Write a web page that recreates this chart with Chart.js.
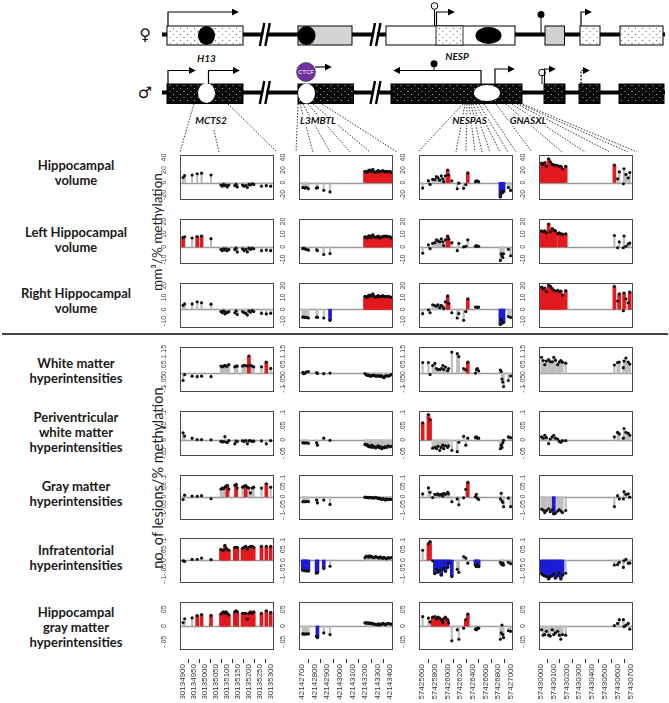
<!DOCTYPE html>
<html><head><meta charset="utf-8">
<script src="https://cdn.jsdelivr.net/npm/chart.js@4/dist/chart.umd.min.js"></script>
<style>
html,body{margin:0;padding:0;background:#fff;}
#wrap{position:relative;width:669px;height:703px;overflow:hidden;background:#fff;}
#wrap canvas{position:absolute;}
.rl{position:absolute;left:0;width:152px;text-align:center;font:bold 13px Lato, sans-serif;line-height:15px;color:#1a1a1a;}
.yt{position:absolute;font-family:Lato, sans-serif;color:#222;white-space:nowrap;transform:translate(-50%,-50%) rotate(-90deg);}
#sep{position:absolute;left:2px;top:333px;width:666px;height:2px;background:#444;}
</style></head><body><div id="wrap">
<svg width="669" height="152" style="position:absolute;left:0;top:0">
<defs>
<pattern id="dotF" width="7" height="6" patternUnits="userSpaceOnUse"><rect width="7" height="6" fill="#fff"/><circle cx="2" cy="1.5" r="0.6" fill="#555"/><circle cx="5.5" cy="4.5" r="0.6" fill="#555"/></pattern>
<pattern id="dotM" width="7" height="6" patternUnits="userSpaceOnUse"><rect width="7" height="6" fill="#0a0a0a"/><circle cx="2" cy="1.5" r="0.6" fill="#bbb"/><circle cx="5.5" cy="4.5" r="0.6" fill="#bbb"/></pattern>
<marker id="ar" viewBox="0 0 10 10" refX="6" refY="5" markerUnits="userSpaceOnUse" markerWidth="7" markerHeight="7" orient="auto"><path d="M0,0 L10,5 L0,10 z" fill="#000"/></marker>
</defs>
<g font-family="DejaVu Sans" font-size="16" text-anchor="middle" fill="#111"><text x="145" y="40">♀</text><text x="145" y="98">♂</text></g>
<!-- female strand -->
<line x1="162" y1="34.5" x2="665" y2="34.5" stroke="#000" stroke-width="4"/>
<rect x="167" y="26" width="76" height="19" fill="url(#dotF)" stroke="#000"/>
<ellipse cx="206.5" cy="35.5" rx="8.5" ry="9.5" fill="#000"/>
<rect x="298" y="26" width="54" height="19" fill="#d4d4d4" stroke="#000"/>
<ellipse cx="306.5" cy="35.5" rx="9" ry="9.5" fill="#000"/>
<rect x="386" y="26" width="129" height="19" fill="#fff" stroke="#000"/>
<rect x="436" y="26" width="27" height="19" fill="url(#dotF)" stroke="#000" stroke-width="0.8"/>
<ellipse cx="488.5" cy="35.5" rx="13" ry="8.5" fill="#000"/>
<line x1="434.5" y1="9" x2="434.5" y2="26" stroke="#000"/><circle cx="434.5" cy="6" r="3.3" fill="#fff" stroke="#000"/>
<polyline points="436.5,26 436.5,12 452,12" fill="none" stroke="#000" stroke-width="1.2" marker-end="url(#ar)"/>
<line x1="541" y1="15" x2="541" y2="33" stroke="#000"/><circle cx="541" cy="14.5" r="3.5" fill="#000"/>
<rect x="545" y="26" width="19.5" height="19" fill="#d0d0d0" stroke="#000"/>
<rect x="580" y="26" width="20" height="19" fill="url(#dotF)" stroke="#000"/>
<polyline points="581,26 581,12 589,12" fill="none" stroke="#000" stroke-width="1.2" marker-end="url(#ar)"/>
<rect x="620" y="26" width="43" height="19" fill="url(#dotF)" stroke="#000"/>
<polyline points="168,26 168,12 236,12" fill="none" stroke="#000" stroke-width="1.2" marker-end="url(#ar)"/>
<!-- male strand -->
<line x1="162" y1="92.5" x2="665" y2="92.5" stroke="#000" stroke-width="4"/>
<rect x="167" y="84" width="76" height="19.5" fill="url(#dotM)" stroke="#000"/>
<ellipse cx="206.5" cy="93" rx="8.5" ry="10" fill="#fff"/>
<polyline points="168,84 168,70.5 193,70.5" fill="none" stroke="#000" stroke-width="1.2" marker-end="url(#ar)"/>
<polyline points="208.5,84 208.5,70.5 237,70.5" fill="none" stroke="#000" stroke-width="1.2" marker-end="url(#ar)"/>
<rect x="298" y="84" width="55.5" height="19.5" fill="url(#dotM)" stroke="#000"/>
<ellipse cx="306.5" cy="93.5" rx="8.5" ry="10" fill="#fff"/>
<polyline points="315,67 329,67" fill="none" stroke="#000" stroke-width="1.2" marker-end="url(#ar)"/>
<circle cx="306" cy="72" r="9.5" fill="#7030a0" stroke="#333" stroke-width="0.6"/>
<text x="306" y="74.3" font-family="Liberation Sans" font-size="6" fill="#fff" text-anchor="middle">CTCF</text>
<rect x="391" y="84" width="131" height="19.5" fill="url(#dotM)" stroke="#000"/>
<ellipse cx="487" cy="93" rx="13" ry="8" fill="#fff"/>
<polyline points="481,84 481,70.5 396,70.5" fill="none" stroke="#000" stroke-width="1.2" marker-end="url(#ar)"/>
<line x1="434" y1="66" x2="434" y2="70.5" stroke="#000"/><circle cx="434" cy="63.8" r="3.5" fill="#000"/>
<polyline points="495,84 495,69 512,69" fill="none" stroke="#000" stroke-width="1.2" marker-end="url(#ar)"/>
<rect x="544" y="84" width="21" height="19.5" fill="url(#dotM)" stroke="#000"/>
<rect x="579" y="84" width="21" height="19.5" fill="url(#dotM)" stroke="#000"/>
<rect x="619" y="84" width="45" height="19.5" fill="url(#dotM)" stroke="#000"/>
<line x1="542" y1="76" x2="542" y2="84" stroke="#000"/><circle cx="542" cy="72.5" r="3.3" fill="#fff" stroke="#000"/>
<polyline points="544.5,84 544.5,69 553,69" fill="none" stroke="#000" stroke-width="1.2" marker-end="url(#ar)"/>
<polyline points="581,84 581,70.5 587,70.5" fill="none" stroke="#000" stroke-width="1.2" stroke-dasharray="2,1.5" marker-end="url(#ar)"/>
<!-- breaks -->
<g stroke-width="2.4">
<line x1="262.5" y1="46" x2="267" y2="23" stroke="#fff" stroke-width="3"/><line x1="259.8" y1="46" x2="264.3" y2="23" stroke="#000"/><line x1="265.3" y1="46" x2="269.8" y2="23" stroke="#000"/>
<line x1="373.2" y1="46" x2="377.7" y2="23" stroke="#fff" stroke-width="3"/><line x1="370.5" y1="46" x2="375" y2="23" stroke="#000"/><line x1="376" y1="46" x2="380.5" y2="23" stroke="#000"/>
<line x1="262.5" y1="104" x2="267" y2="81" stroke="#fff" stroke-width="3"/><line x1="259.8" y1="104" x2="264.3" y2="81" stroke="#000"/><line x1="265.3" y1="104" x2="269.8" y2="81" stroke="#000"/>
<line x1="373.2" y1="104" x2="377.7" y2="81" stroke="#fff" stroke-width="3"/><line x1="370.5" y1="104" x2="375" y2="81" stroke="#000"/><line x1="376" y1="104" x2="380.5" y2="81" stroke="#000"/>
</g>
<!-- dotted guide lines -->
<g stroke="#222" stroke-width="0.9" stroke-dasharray="1.5,1.5" fill="none">
<line x1="194" y1="104" x2="180" y2="152"/><line x1="214" y1="130" x2="219" y2="152"/><line x1="228" y1="104" x2="277" y2="152"/>
<line x1="298" y1="104" x2="296" y2="152"/><line x1="300" y1="104" x2="313" y2="152"/><line x1="303" y1="104" x2="330" y2="152"/><line x1="308" y1="104" x2="350" y2="152"/><line x1="313" y1="104" x2="370" y2="152"/><line x1="322" y1="104" x2="397" y2="152"/>
<line x1="463" y1="104" x2="418" y2="152"/><line x1="465" y1="104" x2="456" y2="152"/><line x1="467" y1="104" x2="466" y2="152"/><line x1="469" y1="104" x2="475" y2="152"/><line x1="471" y1="104" x2="482" y2="152"/><line x1="473" y1="104" x2="490" y2="152"/><line x1="476" y1="104" x2="500" y2="152"/><line x1="479" y1="104" x2="508" y2="152"/><line x1="484" y1="104" x2="516" y2="152"/>
<line x1="496" y1="104" x2="532" y2="152"/><line x1="506" y1="104" x2="562" y2="152"/><line x1="512" y1="104" x2="585" y2="152"/><line x1="517" y1="104" x2="610" y2="152"/><line x1="520" y1="104" x2="628" y2="152"/><line x1="523" y1="104" x2="637" y2="152"/>
</g>
<g font-family="Lato" font-weight="bold" font-style="italic" font-size="10" fill="#111" text-anchor="middle" stroke="#fff" stroke-width="3" paint-order="stroke">
<text x="206.5" y="62">H13</text><text x="457" y="60">NESP</text>
<text x="211" y="124">MCTS2</text><text x="318" y="124">L3MBTL</text><text x="469.5" y="124">NESPAS</text><text x="528" y="124">GNASXL</text>
</g>
</svg>
<div id="sep"></div>
<div class="yt" style="left:157px;top:232px;font-size:13.5px">mm³/% methylation</div>
<div class="yt" style="left:157px;top:478px;font-size:14.5px">no. of lesions/% methylation</div>
</div>
<script>
// ---------------- data ----------------
const genes = ["MCTS2", "L3MBTL", "NESPAS", "GNASXL"];
const rowLabels = [["Hippocampal","volume"],["Left Hippocampal","volume"],["Right Hippocampal","volume"],["White matter","hyperintensities"],["Periventricular","white matter","hyperintensities"],["Gray matter","hyperintensities"],["Infratentorial","hyperintensities"],["Hippocampal","gray matter","hyperintensities"]];

// CpG site positions (bp)
const sitesMCTS2 = [30134900,30134907,30134941,30134964,30134984,30135027,30135072,30135078,30135084,30135090,30135095,30135101,30135108,30135135,30135141,30135146,30135170,30135177,30135184,30135192,30135199,30135206,30135214,30135221,30135256,30135278,30135298];
const sitesL3MBTL = [42142705,42142712,42142722,42142735,42142750,42142815,42142822,42142872,42142922,42143200,42143210,42143218,42143228,42143236,42143245,42143255,42143262,42143272,42143285,42143295,42143305,42143314,42143322,42143332,42143342,42143352,42143362,42143372,42143385,42143398,42143410];
const sitesNESPAS = [57425609,57425700,57425726,57425767,57425802,57425827,57425852,57425878,57425903,57425928,57425943,57425969,57426004,57426019,57426070,57426156,57426181,57426257,57426292,57426323,57426444,57426459,57426474,57426495,57426838,57426852,57426864,57426877,57426889,57426965,57427000];
const sitesGNASXL = [57430007,57430020,57430032,57430045,57430062,57430075,57430090,57430102,57430115,57430132,57430145,57430157,57430170,57430195,57430574,57430599,57430612,57430644,57430649,57430664,57430682,57430694];

// x tick labels
const tickMCTS2 = [30134900,30134950,30135000,30135050,30135100,30135150,30135200,30135250,30135300];
const tickL3MBTL = [42142700,42142800,42142900,42143000,42143100,42143200,42143300,42143400];
const tickNESPAS = [57425600,57425800,57426000,57426200,57426400,57426600,57426800,57427000];
const tickGNASXL = [57430000,57430100,57430200,57430300,57430400,57430500,57430600,57430700];

// y ticks per row
const yTicksHV = [-20,0,20,40];
const yTicksLHV = [-10,0,10,20];
const yTicksRHV = [-10,0,10,20];
const yTicksWMH = [-0.1,-0.05,0,0.05,0.1,0.15];
const yTicksPVWMH = [-0.05,0,0.05,0.1];
const yTicksGMH = [-0.1,-0.05,0,0.05,0.1];
const yTicksINFRA = [-0.1,-0.05,0,0.05,0.1];
const yTicksHGM = [-0.05,0,0.05];

// coefficients: Hippocampal volume
const hvMCTS2 = [8,11,12,14,15,12,-4,-6,-3,-5,-4,-7,-4,-5,-3,-7,-4,-6,-5,-8,-3,-4,-2,-3,-6,-5,-6];
const hvL3MBTL = [-8,-8,-9,-8,-10,-9,-8,-12.5,-15,18,17,16,19,20,18,19,21,17,16,18,19,17,18,18,19,18,17,18,17,18,16];
const hvNESPAS = [-8.9,3,-3,5,4.7,9.3,7.5,3.7,10.7,6,1.4,10.7,20,12,2.8,-10,-1,-9.3,-3.3,15.4,1.4,2.8,2.3,1.4,-23,-17,-14,-16,-14,-8,-12.6];
const hvGNASXL = [31,29,32,26,38,33,29,28,28,27,26,26,22,26,28,6,17,-2,22,13,7.5,16];
// Left hippocampal volume
const lhvMCTS2 = [7.5,8,7,8.2,8.6,6.5,-2,-3,-1.5,-2.5,-1.5,-3,-2,-2,-1,-4,-1.5,-3,-2,-4,-1,-2,-1,-1.5,-3,-2.5,-3];
const lhvL3MBTL = [-1.4,-1.2,-1.6,-2,-2.6,-2.3,-3,-6,-5.3,8,7.5,7,8.5,8.8,7.5,8,9.5,8,7.5,8,8.5,7,7.5,8,8,8.5,8.3,8.5,8,8.2,7];
const lhvNESPAS = [-5,1.6,-1.4,2.8,3.3,5.6,4.7,4,6.3,4,1,5.6,8.6,6.3,3.3,-3,2.8,0,0.5,5.6,0.5,1,0.5,0.5,-10.7,-5.4,-7,-8.4,-5.4,-1.9,-7];
const lhvGNASXL = [12.6,12,12.6,11,18,12,14.5,13.3,12.6,10.3,11,10.3,10,10.3,9,-0.7,4,-0.7,8.6,0.5,2.3,3];
// Right hippocampal volume
const rhvMCTS2 = [3.3,4.5,4.5,6.3,5.5,4.3,-2,-3,-1.5,-4,-2.5,-3,-2,-3,-1.5,-4.5,-2,-3,-3.5,-5,-1.5,-2.5,-1,-2,-3.5,-4,-3.5];
const rhvL3MBTL = [-6.8,-6.8,-7,-7,-7.5,-6.8,-7,-7.5,-9.5,11,10.5,10,11.5,12,11,11.5,13,11,10,11,11.5,10.5,11,11,11.5,11,10.5,11,11,10.5,10];
const rhvNESPAS = [-3.8,-0.5,-3,3.8,3,2.5,3.8,1.3,3.3,2,0.5,6.3,11.3,5,-3,-7.5,-3.8,-9.5,-2,8.8,1.8,1.8,1.5,1.8,-13,-8.8,-12,-11.3,-11.3,-6.3,-7];
const rhvGNASXL = [18.8,17.5,18,15,20.5,19.5,17.5,16.3,15.5,16,15,15.5,12,15.8,19.5,7,13,-1.3,13.8,8.8,5.5,14.5];
// White matter hyperintensities
const wmhMCTS2 = [-0.048,-0.01,-0.02,-0.023,-0.02,-0.023,0.045,0.04,0.045,0.05,0.045,0.045,0.055,0.04,0.045,0.045,0.045,0.05,0.048,0.045,0.11,0.05,0.045,0.04,0.04,0.07,0.03];
const wmhL3MBTL = [0.004,-0.004,0,0.008,0.01,0.003,-0.002,-0.004,0,-0.004,-0.01,-0.015,-0.012,-0.018,-0.02,-0.015,-0.018,-0.013,-0.02,-0.018,-0.02,-0.016,-0.022,-0.018,-0.025,-0.03,-0.02,-0.017,-0.02,-0.015,-0.01];
const wmhNESPAS = [0.068,0.068,-0.01,0.048,0.062,0.029,0.023,0.023,0.029,0.048,0.023,0.039,0.015,0.029,0.135,0.125,0.106,0.029,0.02,0.07,0,0.023,0.029,0.015,0.019,0.01,-0.039,-0.058,-0.087,-0.048,-0.019];
const wmhGNASXL = [0.102,0.081,0.054,0.077,0.087,0.073,0.073,0.102,0.083,0.054,0.071,0.081,0.07,0.064,0.052,0.068,0.071,0.035,0.077,0.097,0.071,0.058];
// Periventricular white matter hyperintensities
const pvwmhMCTS2 = [0.026,0.014,0.006,0.001,0.001,0,-0.006,-0.008,-0.007,0.012,-0.008,-0.01,-0.003,-0.015,-0.005,-0.006,-0.004,-0.006,-0.003,-0.015,-0.004,-0.003,-0.006,-0.005,-0.004,-0.015,-0.003];
const pvwmhL3MBTL = [-0.011,-0.011,-0.012,-0.011,-0.013,-0.011,-0.02,0.006,-0.002,-0.017,-0.02,-0.018,-0.025,-0.022,-0.027,-0.02,-0.028,-0.024,-0.03,-0.026,-0.022,-0.029,-0.025,-0.033,-0.028,-0.03,-0.025,-0.028,-0.022,-0.026,-0.024];
const pvwmhNESPAS = [0.063,0.094,0.075,-0.031,-0.028,-0.033,-0.024,-0.039,-0.028,-0.02,-0.033,-0.022,-0.028,-0.022,-0.039,-0.044,-0.009,0.013,-0.02,0.006,0.009,0.011,0.006,0.006,-0.033,-0.02,-0.028,-0.011,-0.002,0.011,0.008];
const pvwmhGNASXL = [0.011,0.006,0.017,0.008,-0.014,0.003,0.011,0.017,0.006,0.003,-0.006,-0.009,-0.003,-0.003,0.011,0.028,0.022,0.006,0.042,0.028,0.024,0.017];
// Gray matter hyperintensities
const gmhMCTS2 = [-0.015,0.008,0.003,0.002,0.005,-0.011,0.04,0.045,0.042,0.05,0.055,0.06,0.04,0.06,0.065,0.045,0.05,0.055,0.058,0.05,0.045,0.02,0.045,0.05,0.045,0.068,0.05];
const gmhL3MBTL = [-0.027,-0.026,-0.027,-0.026,-0.026,-0.018,-0.033,-0.018,-0.041,-0.003,-0.005,-0.004,-0.006,-0.004,-0.005,-0.007,-0.005,-0.008,-0.004,-0.006,-0.01,-0.008,-0.012,-0.015,-0.01,-0.014,-0.018,-0.012,-0.016,-0.013,-0.015];
const gmhNESPAS = [0.015,0.046,0.023,-0.005,0.012,0.011,0.015,0.008,0.012,0.003,0.018,0.012,0.023,0.015,-0.027,-0.012,-0.043,-0.006,0.038,0.075,0,0.012,-0.008,-0.015,-0.012,0.018,-0.023,-0.03,-0.053,-0.008,-0.053];
const gmhGNASXL = [-0.065,-0.071,-0.084,-0.073,-0.064,-0.079,-0.068,-0.091,-0.087,-0.076,-0.068,-0.076,-0.084,-0.073,-0.053,0.005,-0.012,-0.012,0.026,0.012,0.015,-0.003];
// Infratentorial hyperintensities
const infraMCTS2 = [-0.004,-0.007,0.003,0.004,0.01,0.002,0.055,0.05,0.05,0.075,0.06,0.055,0.05,0.065,0.065,0.065,0.06,0.065,0.07,0.055,0.065,0.07,0.07,0.065,0.07,0.07,0.07];
const infraL3MBTL = [-0.053,-0.054,-0.055,-0.056,-0.057,-0.068,-0.065,-0.044,-0.032,0.012,0.02,0.018,0.015,0.022,0.016,0.018,0.014,0.012,0.017,0.015,0.013,0.01,0.016,0.012,0.008,0.014,0.01,0.006,0.012,0.01,0.013];
const infraNESPAS = [0.05,0.084,0.094,-0.004,-0.07,-0.048,-0.063,-0.053,-0.078,-0.048,-0.041,-0.059,-0.038,-0.016,-0.085,-0.048,-0.063,0.018,0.01,-0.016,-0.026,-0.034,-0.024,-0.034,-0.012,-0.019,-0.024,-0.016,-0.026,-0.012,-0.019];
const infraGNASXL = [-0.07,-0.078,-0.082,-0.085,-0.097,-0.085,-0.082,-0.07,-0.093,-0.082,-0.066,-0.097,-0.078,-0.068,-0.026,-0.024,-0.012,-0.038,-0.004,0.003,-0.016,-0.016];
// Hippocampal gray matter hyperintensities
const hgmMCTS2 = [0.011,0.023,0.026,0.033,0.036,0.034,0.038,0.042,0.045,0.04,0.045,0.04,0.035,0.045,0.048,0.045,0.04,0.04,0.04,0.022,0.04,0.045,0.04,0.045,0.04,0.048,0.043];
const hgmL3MBTL = [-0.025,-0.025,-0.026,-0.025,-0.025,-0.033,-0.037,-0.022,-0.027,0.01,0.011,0.009,0.01,0.008,0.009,0.007,0.008,0.006,0.005,0.004,0.007,0.003,0.006,0.005,0.008,0.007,0.004,0.006,0.008,0.007,0.006];
const hgmNESPAS = [0.03,0.025,0.013,0.028,0.03,0.022,0.028,0.025,0.02,0.012,0.023,0.028,0.02,0.01,-0.047,-0.012,-0.042,-0.007,0.02,0.038,-0.01,-0.012,-0.007,-0.007,-0.042,-0.022,0.003,-0.027,-0.037,-0.015,-0.017];
const hgmGNASXL = [-0.012,-0.029,-0.027,-0.017,-0.029,-0.032,-0.012,-0.027,-0.022,-0.017,-0.029,-0.042,-0.027,-0.029,0.001,0.008,0.02,0.02,-0.002,0.003,0.008,-0.01];

// significance per site: r = significant positive, b = significant negative, . = n.s.
const sigHV = ["..... ..... ..... ..... ..... ..", "..... .... rrrrr rrrrr rrrrr rrrrr rr", "..... ..... ..rr. ....r ....b bbbb. .", "rrrrr rrrrr rrrr r.... ..."];
const sigLHV = ["r..rr ..... ..... ..... ..... ..", "..... .... rrrrr rrrrr rrrrr rrrrr rr", "..... ..... ..rr. ..... ..... ..... .", "rrrrr rrrr. r.rr ..... ..."];
const sigRHV = ["..... ..... ..... ..... ..... ..", "..... ...b rrrrr rrrrr rrrrr rrrrr rr", "..... ..... ..rr. ....r ....b bbbb. .", "rrrrr rrrrr rrrr r.r.r ..r"];
const sigWMH = ["..... ..... ..... ..... r.... r.", "..... .... ..... ..... ..... ..... ..", "..... ..... ..... ....r ..... ..... .", "..... ..... .... ..... ..."];
const sigPVWMH = ["..... ..... ..... ..... ..... ..", "..... .... ..... ..... ..... ..... ..", "rrr.. ..... ..... ..... ..... ..... .", "..... ..... .... ..... ..."];
const sigGMH = ["..... ..... .r..r ...r. ..... r.", "..... .... ..... ..... ..... ..... ..", "..... ..... ..... ....r ..... ..... .", "..... ..b.. .... ..... ..."];
const sigINFRA = ["..... .rrrr rrrrr rrrrr rrrrr rr", "bbbbb bbb. ..... ..... ..... ..... ..", ".rr.b bbbbb bbbbb ..... bbbb. ..... .", "bbbbb bbbbb bbb. ..... ..."];
const sigHGM = ["...rr rrrrr rrrrr rrrr. rrrrr rr", "..... .b.. ..... ..... ..... ..... ..", "...rr rrrr. rrr.. ...rr ..... ..... .", "..... ..... .... ..... ..."];

// ---------------- tables built from the arrays ----------------
const colSites = [sitesMCTS2, sitesL3MBTL, sitesNESPAS, sitesGNASXL];
const colTicks = [tickMCTS2, tickL3MBTL, tickNESPAS, tickGNASXL];
const rowTicks = [yTicksHV, yTicksLHV, yTicksRHV, yTicksWMH, yTicksPVWMH, yTicksGMH, yTicksINFRA, yTicksHGM];
const panelVals = [
  [hvMCTS2, hvL3MBTL, hvNESPAS, hvGNASXL],
  [lhvMCTS2, lhvL3MBTL, lhvNESPAS, lhvGNASXL],
  [rhvMCTS2, rhvL3MBTL, rhvNESPAS, rhvGNASXL],
  [wmhMCTS2, wmhL3MBTL, wmhNESPAS, wmhGNASXL],
  [pvwmhMCTS2, pvwmhL3MBTL, pvwmhNESPAS, pvwmhGNASXL],
  [gmhMCTS2, gmhL3MBTL, gmhNESPAS, gmhGNASXL],
  [infraMCTS2, infraL3MBTL, infraNESPAS, infraGNASXL],
  [hgmMCTS2, hgmL3MBTL, hgmNESPAS, hgmGNASXL]
];
const panelSig = [sigHV, sigLHV, sigRHV, sigWMH, sigPVWMH, sigGMH, sigINFRA, sigHGM];

// ---------------- layout & style ----------------
const rowMin = [-28, -13.5, -16, -0.122, -0.06, -0.123, -0.118, -0.076];
const rowMax = [44, 22, 22.3, 0.168, 0.107, 0.114, 0.113, 0.076];
const colMin = [30134886, 42142675, 57425551, 57429987];
const colMax = [30135313, 42143423, 57427038, 57430719];
const colLeft = [180, 299, 419, 539];
const rowTop = [152, 216, 280, 344, 408, 472, 535, 599];
const labelTop = [157.5, 224.5, 285.5, 355.5, 409.5, 478.5, 542.5, 604.5];
const PW = 97, PH = 51, YW = 22, XH = 52;
const RED = '#e2191f', BLUE = '#1c1cd4', GREY = '#bdbdbd';
const Y_FONT = 7, X_FONT = 8;

const wrap = document.getElementById('wrap');
rowLabels.forEach((lines, r) => {
  const d = document.createElement('div');
  d.className = 'rl';
  d.style.top = labelTop[r] + 'px';
  d.innerHTML = lines.join('<br>');
  wrap.appendChild(d);
});

const fmt = v => String(v).replace('0.', '.');
Chart.defaults.font.family = '"Liberation Sans", Arial, sans-serif';
const mctx = document.createElement('canvas').getContext('2d');

const framePlugin = {
  id: 'frame',
  beforeDatasetsDraw(chart) {
    const {ctx, chartArea: a, scales: {y}} = chart;
    const y0 = Math.round(y.getPixelForValue(0)) + 0.5;
    ctx.save();
    ctx.strokeStyle = '#9a9a9a'; ctx.lineWidth = 1.6;
    ctx.beginPath(); ctx.moveTo(a.left, y0); ctx.lineTo(a.right, y0); ctx.stroke();
    ctx.restore();
  },
  afterDatasetsDraw(chart) {
    const {ctx, chartArea: a} = chart;
    ctx.save();
    ctx.strokeStyle = '#4a4a4a'; ctx.lineWidth = 1;
    ctx.strokeRect(Math.round(a.left) + 0.5, Math.round(a.top) + 0.5, Math.round(a.right - a.left) - 1, Math.round(a.bottom - a.top) - 1);
    ctx.restore();
  }
};

function makePanel(r, c) {
  const isBottom = r === 7;
  const W = YW + PW + 1, H = 1 + PH + (isBottom ? XH : 1);
  const cv = document.createElement('canvas');
  cv.width = W; cv.height = H;
  cv.style.left = (colLeft[c] - YW) + 'px';
  cv.style.top = (rowTop[r] - 1) + 'px';
  cv.style.width = W + 'px'; cv.style.height = H + 'px';
  wrap.appendChild(cv);

  const sites = colSites[c], vals = panelVals[r][c];
  const sig = panelSig[r][c].replace(/ /g, '');
  const grey = [], colored = [], colors = [], dots = [];
  sites.forEach((s, i) => {
    const v = vals[i];
    if (v === undefined) return;
    dots.push({x: s, y: v});
    const code = sig[i];
    if (code === 'r') { colored.push({x: s, y: v}); colors.push(RED); }
    else if (code === 'b') { colored.push({x: s, y: v}); colors.push(BLUE); }
    else grey.push({x: s, y: v});
  });
  const yt = rowTicks[r];
  mctx.font = Y_FONT + 'px "Liberation Sans"';
  const widest = Math.max(...yt.map(v => mctx.measureText(fmt(v)).width));

  new Chart(cv, {
    type: 'bar',
    data: { datasets: [
      {type: 'bar', data: grey, backgroundColor: GREY, barThickness: 1.5, grouped: false, order: 2},
      {type: 'bar', data: colored, backgroundColor: colors, barThickness: 3, grouped: false, order: 1},
      {type: 'scatter', data: dots, backgroundColor: '#111', borderWidth: 0, pointRadius: 1.6, order: 0}
    ]},
    options: {
      responsive: false, animation: false, devicePixelRatio: 1, events: [],
      layout: {padding: {left: 0, right: 1, top: 1, bottom: isBottom ? 0 : 1}},
      plugins: {legend: {display: false}, tooltip: {enabled: false}},
      scales: {
        x: {
          type: 'linear', min: colMin[c], max: colMax[c], offset: false, display: isBottom,
          grid: {display: true, drawOnChartArea: false, drawTicks: true, tickLength: 13, tickColor: '#333', tickWidth: 1, tickBorderDash: [0, 9, 4, 60]},
          border: {display: false},
          ticks: {autoSkip: false, minRotation: 90, maxRotation: 90, padding: 1, font: {size: X_FONT}, color: '#333', callback: v => String(v)},
          afterBuildTicks: s => { s.ticks = colTicks[c].map(v => ({value: v})); },
          afterFit: s => { if (isBottom) { s.height = XH; s.paddingLeft = 0; s.paddingRight = 0; } else { s.height = 0; } }
        },
        y: {
          type: 'linear', min: rowMin[r], max: rowMax[r],
          grid: {display: false}, border: {display: false},
          ticks: {autoSkip: false, minRotation: 90, maxRotation: 90, crossAlign: 'center', padding: 8 - widest / 2, font: {size: Y_FONT}, color: '#444', callback: v => fmt(v)},
          afterBuildTicks: s => { s.ticks = yt.map(v => ({value: v})); },
          afterFit: s => { s.width = YW; s.paddingTop = 0; s.paddingBottom = 0; }
        }
      }
    },
    plugins: [framePlugin]
  });
}

for (let r = 0; r < 8; r++) for (let c = 0; c < 4; c++) makePanel(r, c);
</script>
</body></html>
